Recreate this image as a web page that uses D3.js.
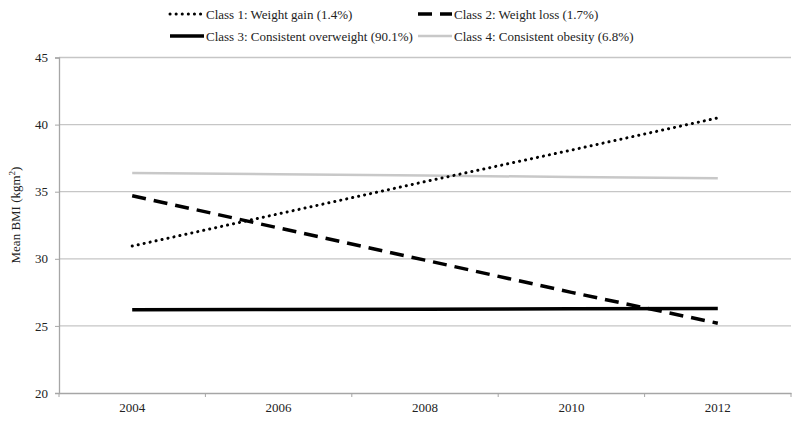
<!DOCTYPE html>
<html><head><meta charset="utf-8">
<script src="https://cdn.jsdelivr.net/npm/d3@7"></script>
<style>body{margin:0;background:#fff}svg{display:block}</style>
</head><body><svg id="c" width="800" height="421"></svg>
<script>
const years = ["2004","2006","2008","2010","2012"];
const class1 = [30.95, 33.35, 35.75, 38.1, 40.5];
const class2 = [34.7, 32.3, 29.9, 27.5, 25.2];
const class3 = [26.2, 26.22, 26.25, 26.27, 26.3];
const class4 = [36.4, 36.3, 36.2, 36.1, 36.0];
const seriesNames = ["Class 1: Weight gain (1.4%)","Class 2: Weight loss (1.7%)","Class 3: Consistent overweight (90.1%)","Class 4: Consistent obesity (6.8%)"];
const yTicks = [20,25,30,35,40,45];

const FONT = "'Liberation Serif', 'Times New Roman', serif";
const FS = "13px";
const styles = [
  {stroke:"#000", width:3, dash:"0.1 6", cap:"round"},
  {stroke:"#000", width:3.5, dash:"14 8", cap:"butt"},
  {stroke:"#000", width:3.5, dash:null, cap:"butt"},
  {stroke:"#c8c8c8", width:2.5, dash:null, cap:"butt"}
];
const allData = [class1,class2,class3,class4];

const svg = d3.select("#c");
const L=59, R=791, T=57.5, B=393;
const x = d3.scaleBand().domain(years).range([L,R]);
const y = d3.scaleLinear().domain([20,45]).range([B,T]);

svg.append("g").selectAll("line").data(yTicks.filter(d=>d>20)).join("line")
  .attr("x1",L).attr("x2",R).attr("y1",d=>y(d)).attr("y2",d=>y(d))
  .attr("stroke","#c6c6c6").attr("stroke-width",1.3);

const ya = svg.append("g").attr("transform",`translate(${L},0)`)
  .call(d3.axisLeft(y).tickValues(yTicks).tickSize(4).tickPadding(7));
ya.select(".domain").attr("stroke","#a6a6a6").attr("stroke-width",1.3);
ya.selectAll(".tick line").attr("stroke","#a6a6a6");
ya.selectAll("text").style("font-size",FS).style("font-family",FONT).attr("fill","#222");

const xa = svg.append("g").attr("transform",`translate(0,${B})`)
  .call(d3.axisBottom(x).tickSize(0).tickPadding(10));
xa.select(".domain").attr("stroke","#a6a6a6").attr("stroke-width",1.3);
xa.selectAll("text").style("font-size",FS).style("font-family",FONT).attr("fill","#222");
const bounds = years.map(d=>x(d)).concat([R]);
xa.append("g").selectAll("line").data(bounds).join("line")
  .attr("x1",d=>d).attr("x2",d=>d).attr("y1",0).attr("y2",4)
  .attr("stroke","#a6a6a6");

svg.append("text").attr("transform",`translate(20,215) rotate(-90)`)
  .attr("text-anchor","middle").style("font-size",FS).style("font-family",FONT).attr("fill","#222")
  .html('Mean BMI (kgm<tspan baseline-shift="super" font-size="9">2</tspan>)');

const line = d3.line().x((d,i)=>x(years[i])+x.bandwidth()/2).y(d=>y(d));
[3,2,1,0].forEach(i=>{
  const s=styles[i];
  svg.append("path").datum(allData[i]).attr("d",line)
    .attr("fill","none").attr("stroke",s.stroke).attr("stroke-width",s.width)
    .attr("stroke-dasharray",s.dash).attr("stroke-linecap",s.cap);
});

const legPos = [[170,14],[418,14],[170,36],[418,36]];
seriesNames.forEach((n,i)=>{
  const [lx,ly]=legPos[i], s=styles[i];
  svg.append("line").attr("x1",lx).attr("x2",lx+34).attr("y1",ly).attr("y2",ly)
    .attr("stroke",s.stroke).attr("stroke-width",s.width)
    .attr("stroke-dasharray",s.dash).attr("stroke-linecap",s.cap);
  svg.append("text").attr("x",lx+36).attr("y",ly).attr("dy","0.35em")
    .style("font-size",FS).style("font-family",FONT).attr("fill","#222").text(n);
});
</script></body></html>
